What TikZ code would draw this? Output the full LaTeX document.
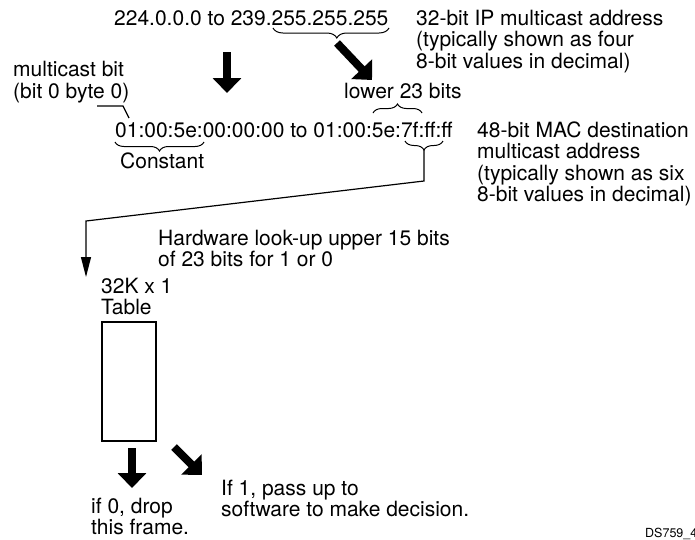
\documentclass[tikz,border=0pt]{standalone}
\usepackage{fontspec}
\setmainfont{TeX Gyre Heros}
\usetikzlibrary{positioning,arrows.meta,decorations.pathreplacing}

\tikzset{
  txt/.style={font=\fontsize{21}{21.5}\selectfont, inner sep=0pt, anchor=base west, align=left},
  fat/.style={line width=8pt, -{Triangle[width=28pt,length=15pt]}},
  thin/.style={line width=1.2pt},
  brc/.style={line width=1pt, decorate, decoration={brace, amplitude=9pt}},
  brcdn/.style={brc, decoration={mirror}},
}

\begin{document}
\begin{tikzpicture}[x=1pt,y=-1pt]
\useasboundingbox (0,0) rectangle (695,539);

\node[txt] (ip) at (114,25) {224.0.0.0 to 239.255.255.255};
\node[txt] (ipnote) at (416,68) {32-bit IP multicast address\\(typically shown as four\\8-bit values in decimal)};
\node[txt] (mbit) at (13,98) {multicast bit\\(bit 0 byte 0)};
\node[txt] (low) at (344,98) {lower 23 bits};
\node[txt] (mac) at (115,137) {01:00:5e:00:00:00 to 01:00:5e:7f:ff:ff};
\node[txt] (macnote) at (477,201.5) {48-bit MAC destination\\multicast address\\(typically shown as six\\8-bit values in decimal)};
\node[txt] (const) at (120,168) {Constant};
\node[txt] (hw) at (158,266.5) {Hardware look-up upper 15 bits\\of 23 bits for 1 or 0};
\node[txt] (tbllbl) at (101,314.5) {32K x 1\\Table};
\node[draw, thin, minimum width=54pt, minimum height=119pt, inner sep=0pt] (tbl) at (129,381.5) {};
\node[txt] (drop) at (91,534.5) {if 0, drop\\this frame.};
\node[txt] (pass) at (221,516.5) {If 1, pass up to\\software to make decision.};
\node[font=\fontsize{12.5}{14}\selectfont, inner sep=0pt, anchor=base west] (ds) at (645,537) {DS759\_4};

\coordinate (a1) at (227,52);
\coordinate (a2) at (227,93);
\coordinate (b1) at (337,43);
\coordinate (b2) at (372,80);
\coordinate (c1) at (132,448);
\coordinate (c2) at (132,488);
\coordinate (d1) at (174,447);
\coordinate (d2) at (202,475);
\draw[fat] (a1) -- (a2);
\draw[fat] (b1) -- (b2);
\draw[fat] (c1) -- (c2);
\draw[fat] (d1) -- (d2);

\draw[brcdn, decoration={amplitude=10pt, aspect=0.55}] (273,28) -- (389,28);
\draw[brc] (373,113) -- (422,113);
\draw[brcdn] (115,142) -- (204,142);
\draw[brcdn] (405,141) -- (443,141);

\coordinate (m1) at (97,106);
\coordinate (m2) at (123,106);
\coordinate (m3) at (129,118);
\draw[thin] (m1) -- (m2) -- (m3);

\coordinate (bt) at (424,150);
\coordinate (bk) at (424,181);
\coordinate (lk) at (86,221);
\coordinate (lt) at (86,277);
\draw[thin, -{Triangle[width=10pt,length=20pt]}] (bt) -- (bk) -- (lk) -- (lt);

\end{tikzpicture}
\end{document}
